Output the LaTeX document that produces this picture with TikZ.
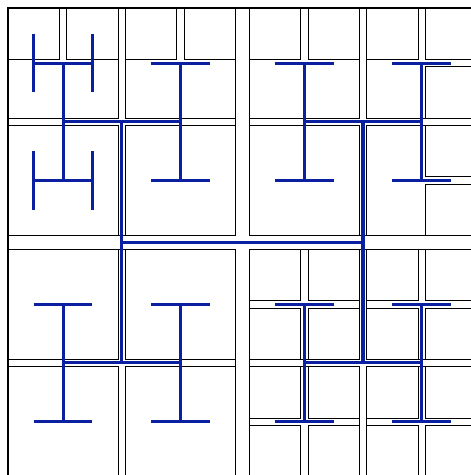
\documentclass[tikz,border=0pt]{standalone}
\definecolor{htree}{RGB}{10,32,160}
\begin{document}
\begin{tikzpicture}[x=1pt,y=-1pt,
  box/.style={draw=black,line width=0.9pt},
  outerbox/.style={draw=black,line width=2.4pt},
  wire/.style={draw=htree,line width=3pt,line cap=butt},
  mainwire/.style={draw=htree,line width=3.4pt,line cap=butt}]
\useasboundingbox (0,0) rectangle (471,475);
\fill[white] (0,0) rectangle (471,475);
\clip (0,0) rectangle (471,475);
% outer square
\draw[outerbox] (8,8) rectangle (476.6,476.6);
% level-1 squares
\foreach \xa/\xb in {8/235.3,249.3/476.6}
  \foreach \ya/\yb in {8/235.3,249.3/476.6}
    \draw[box] (\xa,\ya) rectangle (\xb,\yb);
% level-2 squares
\foreach \xa/\xb in {8/118,125.3/235.3,249.3/359.3,366.6/476.6}
  \foreach \ya/\yb in {8/118,125.3/235.3,249.3/359.3,366.6/476.6}
    \draw[box] (\xa,\ya) rectangle (\xb,\yb);
% level-3 squares: top row
\foreach \xa/\xb in {8/59.35,66.65/118,125.3/176.65,183.95/235.3,249.3/300.65,307.95/359.3,366.6/417.95,425.25/476.6}
  \draw[box] (\xa,8) rectangle (\xb,59.35);
% level-3 squares: right column
\foreach \ya/\yb in {66.65/118,125.3/176.65,183.95/235.3}
  \draw[box] (425.25,\ya) rectangle (476.6,\yb);
% level-3 squares: bottom-right quadrant
\foreach \xa/\xb in {249.3/300.65,307.95/359.3,366.6/417.95,425.25/476.6}
  \foreach \ya/\yb in {249.3/300.65,307.95/359.3,366.6/417.95,425.25/476.6}
    \draw[box] (\xa,\ya) rectangle (\xb,\yb);
% H-tree: top level
\coordinate (hl) at (121.65,242.3);
\coordinate (hr) at (362.95,242.3);
\draw[mainwire] (hl) -- (hr);
\draw[mainwire] (121.65,121.65) -- (121.65,362.95);
\draw[mainwire] (362.95,121.65) -- (362.95,362.95);
% second level
\foreach \cx in {121.65,362.95}
  \foreach \cy in {121.65,362.95}{
    \draw[wire] ({\cx-58.65},\cy) -- ({\cx+58.65},\cy);
    \draw[wire] ({\cx-58.65},{\cy-58.65}) -- ({\cx-58.65},{\cy+58.65});
    \draw[wire] ({\cx+58.65},{\cy-58.65}) -- ({\cx+58.65},{\cy+58.65});
  }
% third level bars
\foreach \cx in {63,180.3,304.3,421.6}
  \foreach \cy in {63,180.3,304.3,421.6}
    \draw[wire] ({\cx-29.325},\cy) -- ({\cx+29.325},\cy);
% fourth level (only top-left)
\foreach \cy in {63,180.3}{
  \draw[wire] (33.675,{\cy-29.325}) -- (33.675,{\cy+29.325});
  \draw[wire] (92.325,{\cy-29.325}) -- (92.325,{\cy+29.325});
}
\end{tikzpicture}
\end{document}
